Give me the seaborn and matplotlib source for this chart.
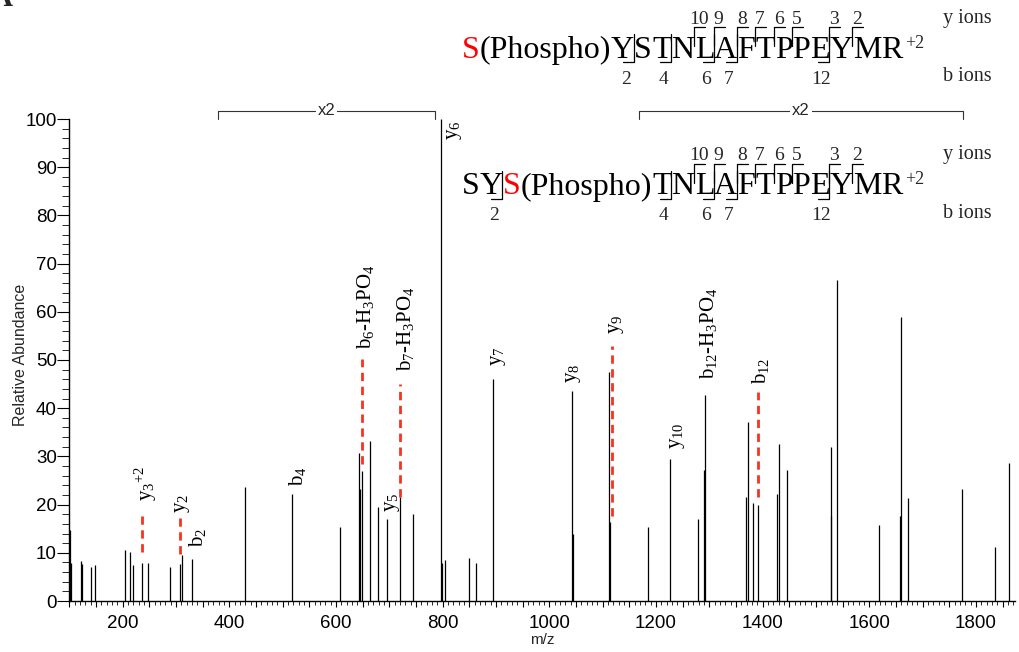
import matplotlib
matplotlib.use("Agg")
import matplotlib.pyplot as plt
import matplotlib.transforms as mtransforms
from matplotlib.lines import Line2D
from matplotlib.font_manager import FontProperties
from matplotlib.ticker import MultipleLocator, FuncFormatter
import seaborn as sns

# ---- spectrum peaks (m/z, relative abundance) ----
peak_mz = [101.3, 102.5, 122.5, 123.8, 140.0, 147.5, 203.7, 213.0, 219.4, 235.6,
           248.0, 288.0, 306.8, 311.3, 329.3, 429.4, 516.8, 607.5, 642.5, 644.4,
           648.8, 664.4, 678.8, 696.3, 719.4, 744.4, 797.0, 798.5, 804.0, 849.5,
           862.6, 895.0, 1041.9, 1043.7, 1112.0, 1113.8, 1185.0, 1226.0, 1279.0, 1290.0,
           1292.0, 1368.0, 1372.6, 1382.6, 1390.7, 1427.0, 1430.0, 1446.0, 1527.5, 1529.0,
           1538.8, 1619.0, 1658.0, 1659.0, 1672.6, 1773.0, 1836.0, 1862.0]
peak_int = [14.7, 7.8, 8.4, 7.6, 7.1, 7.5, 10.5, 10.1, 7.5, 7.8,
            7.8, 7.1, 7.6, 9.5, 8.7, 23.6, 22.1, 15.4, 30.8, 23.3,
            27.0, 33.1, 19.4, 17.0, 21.5, 18.0, 100.0, 7.9, 8.5, 8.85,
            7.95, 46.1, 43.5, 13.8, 47.6, 16.3, 15.4, 29.4, 17.1, 27.2,
            42.8, 21.6, 37.1, 20.3, 20.0, 22.3, 32.6, 27.1, 31.9, 17.6,
            66.7, 15.7, 17.6, 58.9, 21.4, 23.3, 11.1, 28.6]

# ---- ion annotations ----
ion_labels = ["y$_{3}{}^{+2}$", "y$_2$", "b$_2$", "b$_4$", "b$_6$-H$_3$PO$_4$",
              "y$_5$", "b$_7$-H$_3$PO$_4$", "y$_6$", "y$_7$", "y$_8$", "y$_9$",
              "y$_{10}$", "b$_{12}$-H$_3$PO$_4$", "b$_{12}$"]
ion_label_mz = [244, 312.5, 340.5, 528, 656, 706, 731, 823, 905, 1046, 1126,
                1241, 1298, 1396]
ion_label_y = [20.8, 18.2, 11.2, 23.8, 52.3, 18.4, 47.7, 95.6, 48.8, 45.3, 55.3,
               31.5, 46.0, 45.1]

# red dashed markers (theoretical ions of the other isoform)
dash_mz = [235.8, 306.8, 649.0, 719.6, 1116.8, 1391.0]
dash_low = [10.2, 9.7, 28.5, 21.5, 17.6, 21.6]
dash_high = [17.7, 17.3, 50.2, 45.0, 53.0, 43.4]

# x2 magnified regions
zoom_start = [378.6, 1168.0]
zoom_end = [785.5, 1776.0]
zoom_text = ["x2", "x2"]

# ---- peptide sequences ----
residues = ["S", "Y", "S", "T", "N", "L", "A", "F", "T", "P", "P", "E", "Y", "M", "R"]
phospho_sites = [0, 2]
b_ions = [2, 4, 6, 7, 12]
y_ions = [10, 9, 8, 7, 6, 5, 3, 2]

W, H, DPI = 1019, 652, 100
SERIF = "Liberation Serif"
SANS = "Liberation Sans"

sns.set_style("ticks")
plt.rcParams["font.family"] = [SANS, "DejaVu Sans"]
plt.rcParams["mathtext.fontset"] = "custom"
plt.rcParams["mathtext.rm"] = SERIF
plt.rcParams["mathtext.it"] = SERIF + ":italic"
plt.rcParams["mathtext.bf"] = SERIF + ":bold"

fig = plt.figure(figsize=(W / DPI, H / DPI), dpi=DPI)
fig.patch.set_facecolor("white")
# pixel coordinates measured from the top-left corner
px = mtransforms.Affine2D().scale(1.0 / W, -1.0 / H).translate(0, 1) + fig.transFigure

x_left, x_right = 69.4, 1015.0
y_top, y_bot = 119.0, 601.0
ax = fig.add_axes([x_left / W, (H - y_bot) / H, (x_right - x_left) / W, (y_bot - y_top) / H])
ax.set_facecolor("white")

ax.vlines(peak_mz, 0, peak_int, colors="black", lw=0.9)
ax.vlines(dash_mz, dash_low, dash_high, colors="#f5331f", lw=2.0, linestyles=(0, (3, 2)))

for lab, x, y in zip(ion_labels, ion_label_mz, ion_label_y):
    ax.text(x, y, lab, rotation=90, ha="center", va="bottom", fontsize=15,
            family=SERIF, color="black")

for s, e, t in zip(zoom_start, zoom_end, zoom_text):
    ax.plot([s, s, e, e], [100.0, 101.75, 101.75, 100.0], color="#333333", lw=0.8,
            clip_on=False)
    ax.text((s + e) / 2, 101.75, t, ha="center", va="center", fontsize=12, family=SANS,
            bbox=dict(facecolor="white", edgecolor="none", pad=1.5))

ax.set_xlim(100, 100 + (x_right - x_left) / 0.5333)
ax.set_ylim(0, 100)
ax.xaxis.set_major_locator(MultipleLocator(50))
ax.xaxis.set_minor_locator(MultipleLocator(10))
ax.xaxis.set_major_formatter(FuncFormatter(lambda v, p: f"{v:.0f}" if round(v) % 200 == 0 else ""))
ax.yaxis.set_major_locator(MultipleLocator(10))
ax.yaxis.set_minor_locator(MultipleLocator(2))
ax.tick_params(axis="y", which="major", length=8.5, width=0.8, pad=0.5, labelsize=13.5,
               direction="out", colors="black")
ax.tick_params(axis="y", which="minor", length=5, width=0.7, direction="out")
ax.tick_params(axis="x", which="major", length=4.5, width=0.8, pad=5.5, labelsize=13.5,
               direction="out", colors="black")
ax.tick_params(axis="x", which="minor", length=3, width=0.7, direction="out")
sns.despine(ax=ax)
for side in ["left", "bottom"]:
    ax.spines[side].set_linewidth(1.0)
    ax.spines[side].set_color("black")

ax.set_xlabel("m/z", fontsize=11, family=SANS)
ax.set_ylabel("Relative Abundance", fontsize=11.5, family=SANS)
ax.xaxis.set_label_coords(0.5, -0.066)
ax.yaxis.set_label_coords(-0.0443, 0.51)

# ---- peptide sequences with fragment markers ----
renderer = fig.canvas.get_renderer()
SEQ_SIZE = 23
seq_prop = FontProperties(family=SERIF, size=SEQ_SIZE)


def advance(s):
    w_full, _, _ = renderer.get_text_width_height_descent("H" + s + "H", seq_prop, ismath=False)
    w_hh, _, _ = renderer.get_text_width_height_descent("HH", seq_prop, ismath=False)
    return w_full - w_hh


def draw_peptide(base, phospho_index):
    x = 462.0
    edges = [x]
    for i, res in enumerate(residues):
        pieces = [(res, "black")]
        if i == phospho_index:
            pieces = [(res, "red"), ("(Phospho)", "black")]
        for txt, color in pieces:
            fig.text(x, base, txt, transform=px, fontproperties=seq_prop, color=color,
                     ha="left", va="baseline")
            x += advance(txt)
        edges.append(x)
    fig.text(x + 2, base - 10, "+2", transform=px, family=SERIF, fontsize=13,
             ha="left", va="baseline")

    n = len(residues)
    for k in y_ions:
        xb = edges[n - k] - 0.5
        fig.add_artist(Line2D([xb, xb, xb + 11], [base - 12, base - 31, base - 31],
                              transform=px, color="black", lw=0.9))
        fig.text(xb + 5, base - 34, str(k), transform=px, family=SERIF, fontsize=14,
                 ha="center", va="baseline")
    for k in b_ions:
        xb = edges[k] - 0.5
        fig.add_artist(Line2D([xb, xb, xb - 11], [base - 24, base + 4, base + 4],
                              transform=px, color="black", lw=0.9))
        fig.text(xb - 8, base + 26, str(k), transform=px, family=SERIF, fontsize=14,
                 ha="center", va="baseline")

    fig.text(943, base - 35.5, "y ions", transform=px, family=SERIF, fontsize=14.5,
             ha="left", va="baseline")
    fig.text(943, base + 23, "b ions", transform=px, family=SERIF, fontsize=14.5,
             ha="left", va="baseline")


draw_peptide(58.0, phospho_sites[0])
draw_peptide(194.5, phospho_sites[1])

# panel letter, cut by the top edge as in the source figure
fig.text(13, 6, "A", transform=px, family=SERIF, fontsize=22, fontweight="bold",
         ha="right", va="baseline")

fig.savefig("out.png", dpi=DPI, facecolor="white")
